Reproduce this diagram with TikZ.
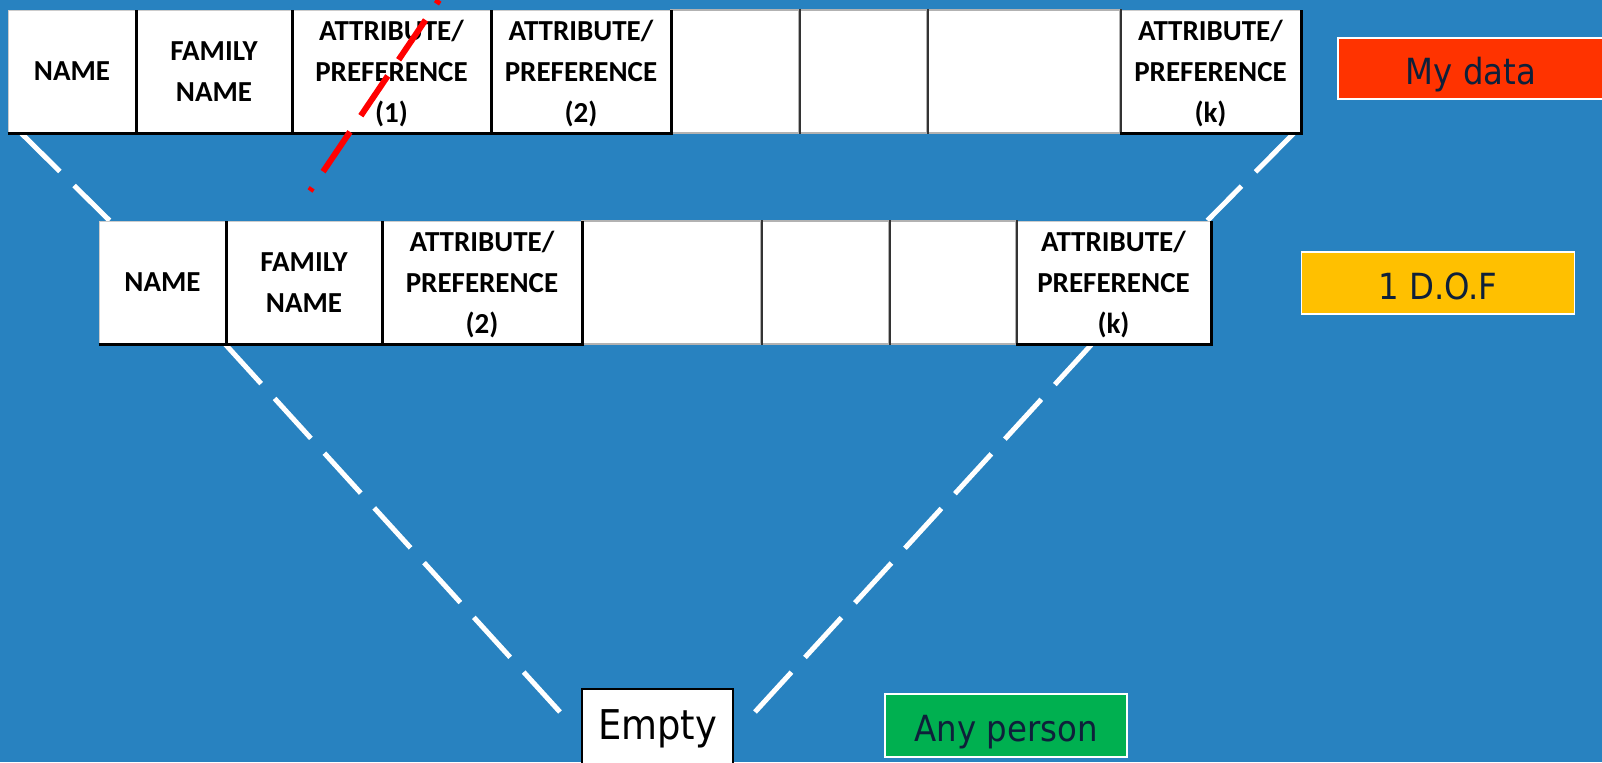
\documentclass[tikz,border=0pt]{standalone}
\usepackage{fontspec}
\usetikzlibrary{backgrounds}

\newfontfamily\cellfont{Carlito}
\newfontfamily\tagfont{DejaVu Sans Condensed}

\definecolor{bgblue}{RGB}{40,130,192}
\definecolor{tagtext}{RGB}{14,32,58}
\definecolor{mydatared}{RGB}{255,51,0}
\definecolor{dofyellow}{RGB}{255,192,0}
\definecolor{anygreen}{RGB}{0,176,80}

\newcommand{\hdrfont}{\cellfont\bfseries\fontsize{14.5}{20.5}\selectfont}

\tikzset{
  hdr/.style={fill=white, draw=black!20, line width=0.5pt, inner sep=0pt,
    minimum height=61.5pt, align=center, font=\hdrfont, text depth=0pt},
  blank/.style={fill=white, draw=black!30, line width=0.8pt, inner sep=0pt,
    minimum height=61.5pt},
  rule/.style={black!80, line width=1pt},
  shade/.style={black, line width=1.8pt},
  link/.style={white, line width=2.5pt, dash pattern=on 27pt off 10pt},
  tag/.style={draw=white, line width=0.8pt, inner sep=0pt, text=tagtext,
    font=\tagfont\fontsize{18}{20}\selectfont, text height=16.1pt, text depth=0pt},
}

\begin{document}
\begin{tikzpicture}[x=0.5pt, y=-0.5pt]
  \useasboundingbox (0,0) rectangle (1602,762);
  \begin{pgfonlayer}{background}
    \fill[bgblue] (0,0) rectangle (1602,762);
  \end{pgfonlayer}

  % Full record (top table)
  \node[hdr, minimum width=64pt]   (t1) at (72,71.5)    {NAME};
  \node[hdr, minimum width=78pt]   (t2) at (214,71.5)   {FAMILY\\NAME};
  \node[hdr, minimum width=99.5pt] (t3) at (391.5,71.5) {ATTRIBUTE/\\PREFERENCE\\(1)};
  \node[hdr, minimum width=90pt]   (t4) at (581,71.5)   {ATTRIBUTE/\\PREFERENCE\\(2)};
  \node[hdr, minimum width=90.5pt] (t8) at (1210.5,71.5) {ATTRIBUTE/\\PREFERENCE\\(k)};
  \node[blank, minimum width=64pt]   (t5) at (735,71.5)    {};
  \node[blank, minimum width=64pt]   (t6) at (863,71.5)    {};
  \node[blank, minimum width=96.5pt] (t7) at (1023.5,71.5) {};

  % Record with one attribute removed (second table)
  \node[hdr, minimum width=63.5pt] (u1) at (162.5,282.5) {NAME};
  \node[hdr, minimum width=78pt]   (u2) at (304,282.5)   {FAMILY\\NAME};
  \node[hdr, minimum width=100pt]  (u3) at (482,282.5)   {ATTRIBUTE/\\PREFERENCE\\(2)};
  \node[hdr, minimum width=97.5pt] (u7) at (1113.5,282.5) {ATTRIBUTE/\\PREFERENCE\\(k)};
  \node[blank, minimum width=89.5pt] (u4) at (671.5,282.5) {};
  \node[blank, minimum width=64pt]   (u5) at (825,282.5)   {};
  \node[blank, minimum width=63.5pt] (u6) at (952.5,282.5) {};

  % cell dividers and shadows
  \foreach \c in {t5,t6,t7,u4,u5,u6}
    \draw[rule] (\c.north east) -- (\c.south east);
  \foreach \c in {t1,t2,t3,t4,t8,u1,u2,u3,u7}
    \draw[shade] (\c.south west) -- (\c.south east) -- (\c.north east);

  % Labels on the right
  \node[tag, fill=mydatared, minimum width=133pt, minimum height=30.5pt] (mydata) at (1471,68.5) {My data};
  \node[tag, fill=dofyellow, minimum width=136.5pt, minimum height=31pt] (dof) at (1438,283) {1 D.O.F};
  \node[tag, fill=anygreen, minimum width=121pt, minimum height=31.5pt] (anyone) at (1006,725.5) {Any person};

  % Empty record at the bottom
  \node[fill=white, draw=black, line width=1pt, inner sep=0pt, minimum width=75.5pt,
    minimum height=43pt, font=\tagfont\fontsize{20.5}{22}\selectfont,
    text height=15pt, text depth=7.1pt] (empty) at (657.5,732) {Empty};

  % Funnel lines
  \begin{pgfonlayer}{background}
    \draw[link] ([xshift=7pt]t1.south west) -- ([xshift=5.5pt]u1.north west);
    \draw[link] ([xshift=-4pt]t8.south east) -- ([xshift=-2pt]u7.north east);
    \draw[link] ([shift={(-10.5pt,-12pt)}]empty.north west) -- (u2.south west);
    \draw[link] ([shift={(10.5pt,-12pt)}]empty.north east) -- ([xshift=-11pt]u7.south);
  \end{pgfonlayer}

  % Removed attribute
  \coordinate (cuttop) at (439,0);
  \coordinate (cutend) at (310,191);
  \draw[red, line width=3pt, dash pattern=on 24pt off 9.75pt, dash phase=21.7pt] (cuttop) -- (cutend);
\end{tikzpicture}
\end{document}
